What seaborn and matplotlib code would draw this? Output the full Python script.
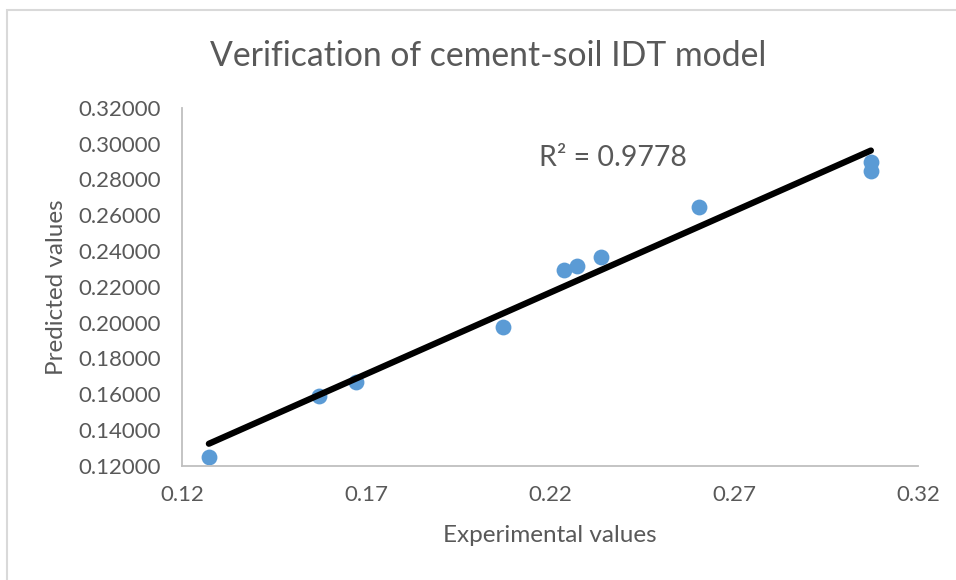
import matplotlib
matplotlib.use("Agg")
import matplotlib.pyplot as plt
import seaborn as sns
import pandas as pd

# values
experimental = [0.1273, 0.1572, 0.1673, 0.2072, 0.2239, 0.2273, 0.2339, 0.2605, 0.3072, 0.3072]
predicted = [0.1249, 0.1588, 0.1670, 0.1973, 0.2294, 0.2316, 0.2365, 0.2646, 0.2899, 0.2846]
x_ticks = [0.12, 0.17, 0.22, 0.27, 0.32]
y_ticks = [0.12, 0.14, 0.16, 0.18, 0.20, 0.22, 0.24, 0.26, 0.28, 0.30, 0.32]
r2_label = "R² = 0.9778"

df = pd.DataFrame({"experimental": experimental, "predicted": predicted})

sns.set_theme(style="white")
plt.rcParams["font.family"] = ["Lato", "DejaVu Sans"]
grey = "#595959"

fig = plt.figure(figsize=(9.56, 5.8), dpi=100)
ax = fig.add_axes([182 / 956, 1 - 465.7 / 580, (918 - 182) / 956, (465.7 - 107.9) / 580])

sns.regplot(data=df, x="experimental", y="predicted", ax=ax, ci=None,
            scatter_kws={"s": 130, "color": "#5B9BD5", "alpha": 1, "linewidths": 0},
            line_kws={"color": "black", "lw": 4.5, "solid_capstyle": "round"})

ax.set_xlim(0.12, 0.32)
ax.set_ylim(0.12, 0.32)
ax.set_xticks(x_ticks)
ax.set_xticklabels([f"{t:.2f}" for t in x_ticks])
ax.set_yticks(y_ticks)
ax.set_yticklabels([f"{t:.5f}" for t in y_ticks])
ax.tick_params(axis="both", length=0, labelsize=16, colors=grey)
ax.tick_params(axis="x", pad=14)
ax.tick_params(axis="y", pad=15)

for side in ["top", "right"]:
    ax.spines[side].set_visible(False)
for side in ["left", "bottom"]:
    ax.spines[side].set_color("#BFBFBF")
    ax.spines[side].set_linewidth(1.3)

ax.set_xlabel("Experimental values", fontsize=17.5, color=grey, labelpad=14)
ax.set_ylabel("Predicted values", fontsize=17.5, color=grey, labelpad=8)
ax.text(0.2371, 0.2920, r2_label, fontsize=20.5, color=grey, ha="center", va="center")

fig.text(488 / 956, 1 - 56 / 580, "Verification of cement-soil IDT model",
         fontsize=24.3, color=grey, ha="center", va="center")

# outer chart frame (only top/left edges visible in the reference)
frame = plt.Rectangle((7 / 956, -0.1), 1.2, 1 - 10 / 580 + 0.1, transform=fig.transFigure,
                      fill=False, edgecolor="#D9D9D9", lw=1.5)
fig.patches.append(frame)

fig.savefig("out.png", dpi=100)
